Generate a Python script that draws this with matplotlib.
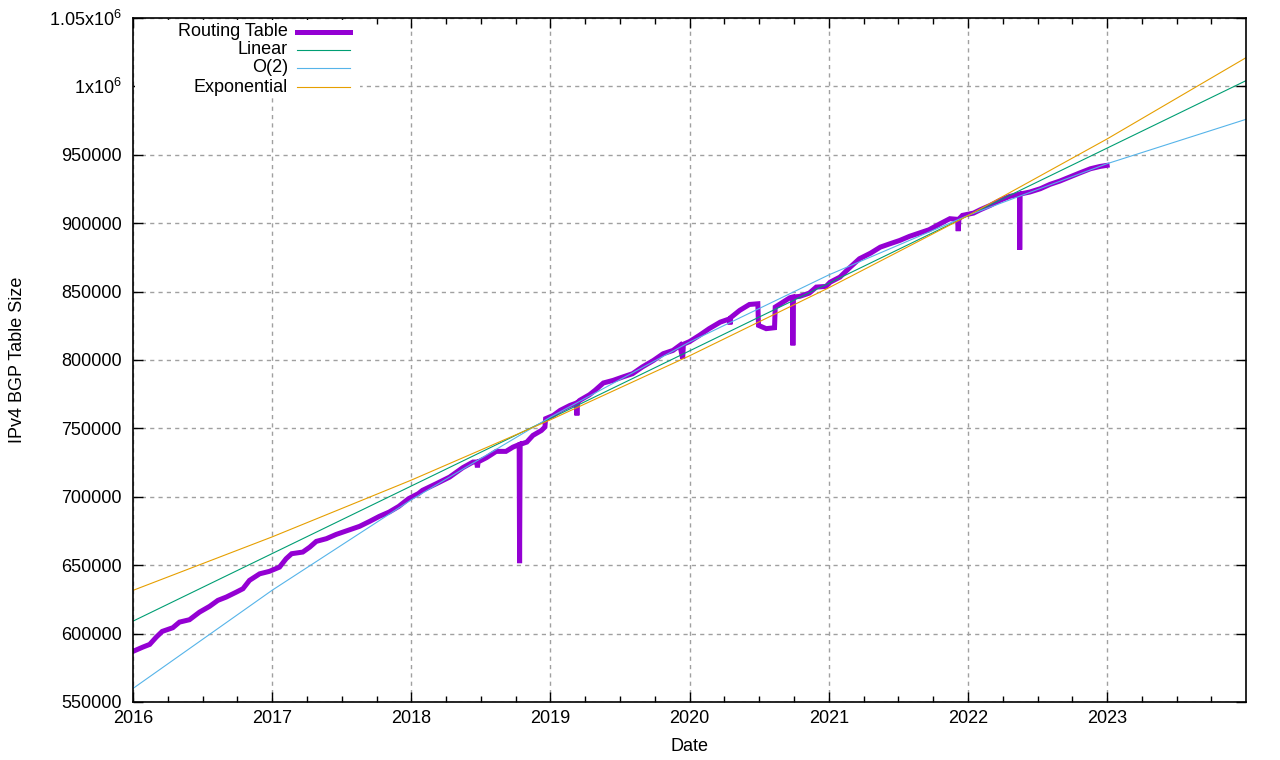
import matplotlib
matplotlib.use("Agg")
import matplotlib.pyplot as plt
from matplotlib.patches import Rectangle
from matplotlib.ticker import FixedLocator, MultipleLocator, FuncFormatter

plt.rcParams['font.family'] = ['Liberation Sans', 'DejaVu Sans']
plt.rcParams['mathtext.fontset'] = 'custom'
plt.rcParams['mathtext.rm'] = 'Liberation Sans'
plt.rcParams['mathtext.it'] = 'Liberation Sans'

# routing table size (decimal year, prefixes)
table_years = [
    2016.000, 2016.070, 2016.120, 2016.167, 2016.210, 2016.286, 2016.334, 2016.406,
    2016.478, 2016.550, 2016.610, 2016.670, 2016.742, 2016.790, 2016.837, 2016.910,
    2016.980, 2017.053, 2017.100, 2017.140, 2017.220, 2017.270, 2017.317, 2017.390,
    2017.460, 2017.556, 2017.628, 2017.700, 2017.770, 2017.840, 2017.910, 2017.980,
    2018.050, 2018.080, 2018.180, 2018.275, 2018.370, 2018.443, 2018.470, 2018.475,
    2018.480, 2018.540, 2018.610, 2018.680, 2018.730, 2018.775, 2018.778, 2018.782,
    2018.830, 2018.874, 2018.935, 2018.960, 2018.965, 2019.020, 2019.070, 2019.140,
    2019.185, 2019.190, 2019.195, 2019.210, 2019.280, 2019.320, 2019.380, 2019.450,
    2019.520, 2019.590, 2019.660, 2019.740, 2019.810, 2019.880, 2019.930, 2019.950,
    2019.955, 2020.000, 2020.070, 2020.140, 2020.220, 2020.285, 2020.290, 2020.295,
    2020.360, 2020.430, 2020.490, 2020.495, 2020.550, 2020.610, 2020.615, 2020.670,
    2020.720, 2020.740, 2020.742, 2020.745, 2020.790, 2020.860, 2020.910, 2020.980,
    2021.010, 2021.080, 2021.150, 2021.220, 2021.300, 2021.370, 2021.440, 2021.510,
    2021.580, 2021.650, 2021.720, 2021.800, 2021.870, 2021.925, 2021.930, 2021.935,
    2021.960, 2022.040, 2022.090, 2022.160, 2022.230, 2022.300, 2022.370, 2022.372,
    2022.375, 2022.445, 2022.520, 2022.590, 2022.660, 2022.730, 2022.800, 2022.880,
    2022.950, 2023.000,
]
table_size = [
    587000, 590100, 592100, 597400, 601600, 604300, 608400, 610150,
    615700, 619900, 624300, 626700, 630300, 632800, 638900, 643700,
    645500, 648600, 654700, 658400, 659600, 663200, 667400, 669400,
    672500, 675900, 678400, 682000, 685700, 688800, 693000, 698600,
    702300, 704700, 709600, 714400, 721300, 725400, 725400, 721500,
    725500, 728600, 733200, 733200, 736300, 738200, 651500, 738300,
    740000, 744900, 748500, 751000, 757100, 759500, 763200, 766800,
    768500, 759500, 769000, 770500, 774600, 777800, 783200, 785100,
    787600, 790000, 794900, 799700, 804600, 807000, 810700, 801000,
    811500, 813500, 818000, 822900, 827700, 830000, 826000, 831000,
    836300, 840600, 841100, 825300, 822900, 823600, 838700, 842300,
    845500, 845800, 810700, 846000, 846500, 848900, 853300, 853800,
    856900, 860600, 867500, 874000, 878100, 882500, 885000, 887400,
    890400, 892800, 895200, 899600, 903300, 902800, 894200, 903000,
    905700, 907400, 909900, 913000, 916700, 919600, 921100, 880600,
    921300, 922800, 925200, 928400, 930800, 933700, 936600, 939800,
    941500, 942300,
]

# fitted curves, values read at each new year
fit_years = [2016, 2017, 2018, 2019, 2020, 2021, 2022, 2023, 2024]
linear_fit = [609100, 658500, 707900, 757300, 806700, 856100, 905500, 954900, 1004300]
o2_fit = [559900, 631700, 697800, 758300, 813100, 862200, 905700, 943500, 976000]
exp_fit = [631600, 670700, 712200, 756300, 803100, 852800, 905500, 961600, 1021100]

series = [
    ('Routing Table', table_years, table_size, '#9400d3', 3.6),
    ('Linear', fit_years, linear_fit, '#009e73', 0.8),
    ('O(2)', fit_years, o2_fit, '#56b4e9', 0.8),
    ('Exponential', fit_years, exp_fit, '#e69f00', 0.8),
]

FS = 13

fig = plt.figure(figsize=(12.8, 7.6), dpi=100)
ax = fig.add_axes([133 / 1280, 1 - 702 / 760, (1246 - 133) / 1280, (702 - 18) / 760])

for name, xs, ys, color, lw in series:
    ax.plot(xs, ys, color=color, lw=lw, solid_joinstyle='miter')

ax.set_xlim(2016, 2023.998)
ax.set_ylim(550000, 1050000)

ax.xaxis.set_major_locator(FixedLocator(list(range(2016, 2024))))
ax.xaxis.set_minor_locator(MultipleLocator(0.25))
ax.xaxis.set_major_formatter(FuncFormatter(lambda v, p: '%d' % round(v)))
ax.yaxis.set_major_locator(MultipleLocator(50000))


def ylabel_fmt(v, p):
    if v >= 1000000:
        return ('%g' % (v / 1e6)) + r'x10$^{\mathregular{6}}$'
    return '%d' % v


ax.yaxis.set_major_formatter(FuncFormatter(ylabel_fmt))

ax.tick_params(which='both', direction='in', top=True, right=True, labelsize=FS, width=1)
ax.tick_params(which='major', length=7)
ax.tick_params(which='minor', length=4)
ax.tick_params(axis='y', which='minor', left=False, right=False)
ax.tick_params(axis='y', pad=8)
ax.tick_params(axis='x', pad=6)

ax.grid(True, which='major', color='#a0a0a0', linestyle=(0, (3, 3)), lw=1)
ax.set_axisbelow(True)
for sp in ax.spines.values():
    sp.set_linewidth(1.2)

ax.set_xlabel('Date', fontsize=FS, labelpad=8)
ax.set_ylabel('IPv4 BGP Table Size', fontsize=FS, labelpad=17)

# gnuplot-style key: white box over the grid, label right aligned, sample after it
ax.add_patch(Rectangle((135 / 1280, 1 - 96 / 760), 225 / 1280, 76 / 760,
                       transform=fig.transFigure, facecolor='white', edgecolor='none', zorder=1))
key_rows = [32, 50, 68, 87]
for (name, xs, ys, color, lw), row in zip(series, key_rows):
    fy = 1 - row / 760
    fig.text(288 / 1280, fy, name, ha='right', va='center', fontsize=FS)
    fig.add_artist(plt.Line2D([297 / 1280, 350 / 1280], [fy, fy], color=color, lw=lw))

fig.savefig('out.png', dpi=100)
